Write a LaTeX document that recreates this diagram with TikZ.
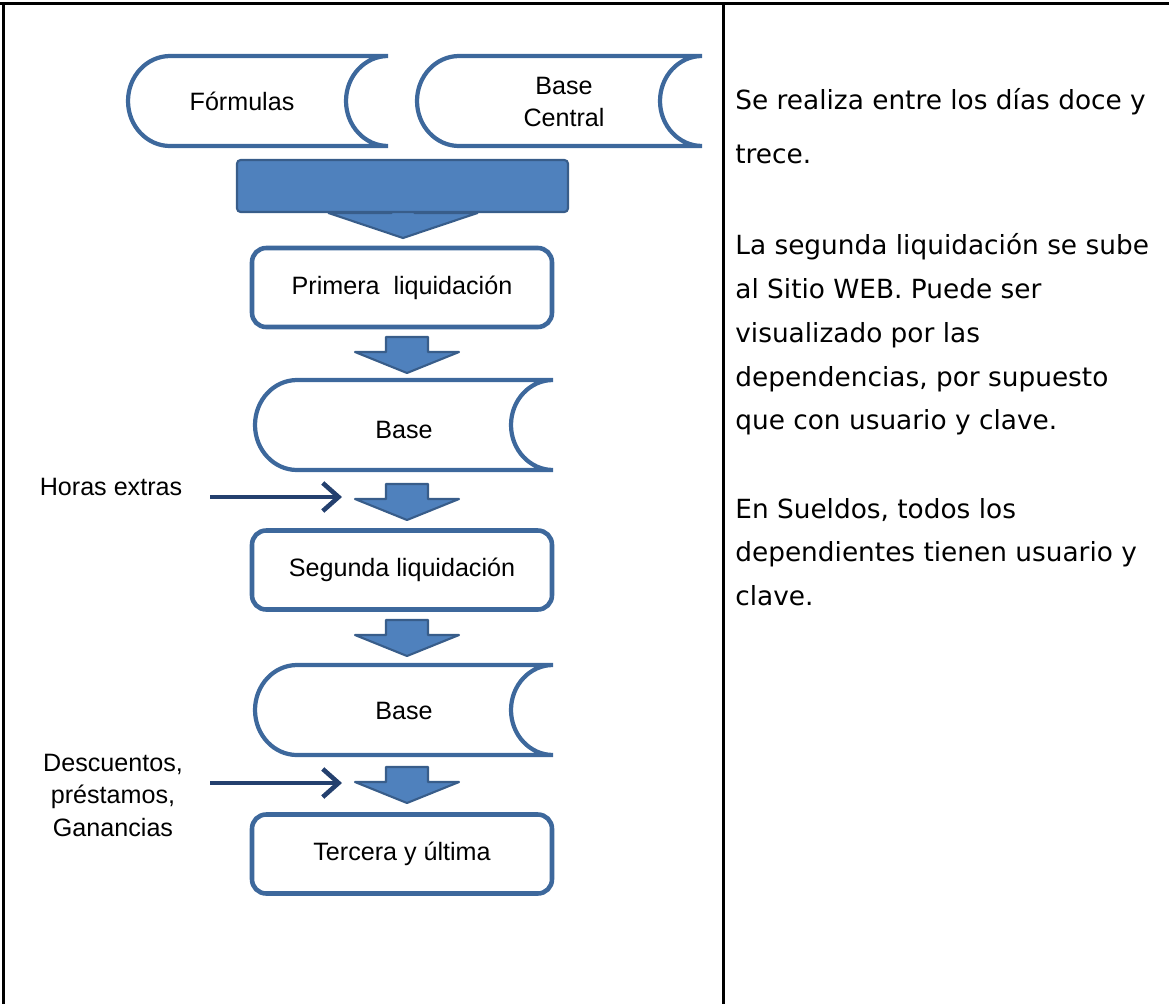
\documentclass[tikz,border=0pt]{standalone}
\usepackage{fontspec}
\setmainfont{Liberation Sans}
\newfontfamily\notefont{DejaVu Sans}
\usetikzlibrary{arrows.meta}
\definecolor{shapeline}{RGB}{61, 104, 156}
\definecolor{arrowfill}{RGB}{79, 129, 189}
\definecolor{arrowline}{RGB}{56, 93, 138}
\definecolor{inputline}{RGB}{36, 64, 110}

\tikzset{
	tableline/.style={draw=black, line width=1.7pt},
	storeline/.style={draw=shapeline, line width=2.4pt},
	procbox/.style={draw=shapeline, line width=2.6pt, rounded corners=8pt, minimum width=6cm, minimum height=1.58cm},
	blockarrow/.style={fill=arrowfill, draw=arrowline, line width=1.2pt, line join=round},
	inputarrow/.style={draw=inputline, line width=2.6pt, -{Straight Barb[length=9pt, width=16pt, line width=2.6pt]}},
	flowtext/.style={font=\fontsize{14.3}{18.5}\selectfont, align=center},
	notetext/.style={font=\notefont\fontsize{15}{25}\selectfont, anchor=base west, inner sep=0pt}
}

\begin{document}
\begin{tikzpicture}[x=0.02cm, y=0.02cm]
			\useasboundingbox (0, 0) rectangle (1169, -1004);
			% table lines
			\draw [tableline] (0, -3.5) -- (1169, -3.5);
			\draw [tableline] (3.5, -3.5) -- (3.5, -1004);
			\draw [tableline] (723, -3.5) -- (723, -1004);
			% stored data
			\draw [storeline] (170, -56) -- (388, -56) arc[start angle=90, end angle=270, x radius=0.84cm, y radius=0.9cm] -- (170, -146) arc[start angle=270, end angle=90, x radius=0.84cm, y radius=0.9cm] -- cycle;
			\node [flowtext] (formulas) at (242, -101) {Fórmulas};
			\draw [storeline] (459, -56) -- (702, -56) arc[start angle=90, end angle=270, x radius=0.84cm, y radius=0.9cm] -- (459, -146) arc[start angle=270, end angle=90, x radius=0.84cm, y radius=0.9cm] -- cycle;
			\node [flowtext] (central) at (564, -102) {Base\\Central};
			% merge arrow
			\coordinate (mh) at (403, -212);
			\filldraw [blockarrow] (mh) ++(-11.5, 6) -- ++(0, -7) -- ++(-63, 0) -- ++(74.5, -25) -- ++(74.5, 25) -- ++(-63, 0) -- ++(0, 7) -- cycle;
			\node [blockarrow, rounded corners=2pt, minimum width=6.62cm, minimum height=1.04cm] (merge) at (402.5, -186) {};
			% first run
			\node [procbox, flowtext] (primera) at (402, -287.5) {Primera\ \ liquidación};
			\coordinate (d1) at (407, -337);
			\filldraw [blockarrow] (d1) ++(-21, 0) -- ++(42, 0) -- ++(0, -15) -- ++(31, 0) -- ++(-52, -21) -- ++(-52, 21) -- ++(31, 0) -- cycle;
			\draw [storeline] (297, -380) -- (553, -380) arc[start angle=90, end angle=270, x radius=0.84cm, y radius=0.9cm] -- (297, -470) arc[start angle=270, end angle=90, x radius=0.84cm, y radius=0.9cm] -- cycle;
			\node [flowtext] (base1) at (404, -430) {Base};
			% second run
			\node [flowtext] (horas) at (111, -487) {Horas extras};
			\coordinate (hs) at (210, -497);
			\coordinate (he) at (342, -497);
			\draw [inputarrow] (hs) -- (he);
			\coordinate (d2) at (407, -484);
			\filldraw [blockarrow] (d2) ++(-21, 0) -- ++(42, 0) -- ++(0, -15) -- ++(31, 0) -- ++(-52, -21) -- ++(-52, 21) -- ++(31, 0) -- cycle;
			\node [procbox, flowtext] (segunda) at (402, -570) {Segunda liquidación};
			\coordinate (d3) at (407, -620);
			\filldraw [blockarrow] (d3) ++(-21, 0) -- ++(42, 0) -- ++(0, -15) -- ++(31, 0) -- ++(-52, -21) -- ++(-52, 21) -- ++(31, 0) -- cycle;
			\draw [storeline] (297, -665) -- (553, -665) arc[start angle=90, end angle=270, x radius=0.84cm, y radius=0.9cm] -- (297, -755) arc[start angle=270, end angle=90, x radius=0.84cm, y radius=0.9cm] -- cycle;
			\node [flowtext] (base2) at (404, -711) {Base};
			% third run
			\node [flowtext] (descuentos) at (113, -795) {Descuentos,\\préstamos,\\Ganancias};
			\coordinate (ds) at (210, -783);
			\coordinate (de) at (342, -783);
			\draw [inputarrow] (ds) -- (de);
			\coordinate (d4) at (407, -767);
			\filldraw [blockarrow] (d4) ++(-21, 0) -- ++(42, 0) -- ++(0, -15) -- ++(31, 0) -- ++(-52, -21) -- ++(-52, 21) -- ++(31, 0) -- cycle;
			\node [procbox, flowtext] (tercera) at (402, -854) {Tercera y última};
			% notes
			\node [notetext] (l1) at (735, -109) {Se realiza entre los días doce y};
			\node [notetext] (l2) at (735, -163) {trece.};
			\node [notetext] (l3) at (735, -254) {La segunda liquidación se sube};
			\node [notetext] (l4) at (735, -298) {al Sitio WEB. Puede ser};
			\node [notetext] (l5) at (735, -342) {visualizado por las};
			\node [notetext] (l6) at (735, -386) {dependencias, por supuesto};
			\node [notetext] (l7) at (735, -429) {que con usuario y clave.};
			\node [notetext] (l8) at (735, -518) {En Sueldos, todos los};
			\node [notetext] (l9) at (735, -561) {dependientes tienen usuario y};
			\node [notetext] (l10) at (735, -605) {clave.};
		\end{tikzpicture}
\end{document}
